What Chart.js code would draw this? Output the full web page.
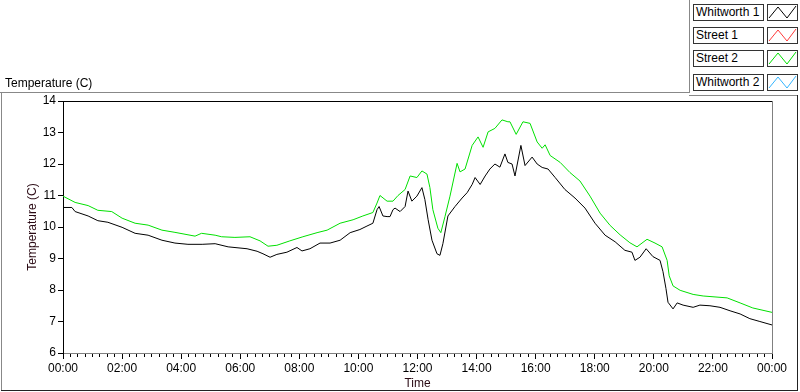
<!DOCTYPE html>
<html><head><meta charset="utf-8">
<script src="https://cdn.jsdelivr.net/npm/chart.js@4.4.1/dist/chart.umd.min.js"></script>
<style>
html,body{margin:0;padding:0;background:#fff;}
#wrap{position:relative;width:800px;height:392px;overflow:hidden;font-family:"Liberation Sans",Arial,sans-serif;font-size:12px;color:#000;}
#c{position:absolute;left:0;top:0;}
.ln{position:absolute;}
.lgt{position:absolute;left:693px;width:71px;height:17px;border:1px solid #333;box-sizing:border-box;line-height:15px;padding-left:2px;background:#fff;white-space:nowrap;}
.lgs{position:absolute;left:767px;width:31px;height:17px;border:1px solid #333;box-sizing:border-box;background:#fff;}
.lgs svg{position:absolute;left:0;top:0;}
#ptitle{position:absolute;left:5px;top:76px;line-height:14px;white-space:nowrap;}
</style></head>
<body>
<div id="wrap">
<canvas id="c" width="800" height="392"></canvas>
<div class="ln" style="left:0;top:92px;width:690px;height:1px;background:#888"></div>
<div class="ln" style="left:689px;top:0;width:1px;height:93px;background:#888"></div>
<div class="ln" style="left:689px;top:95px;width:109px;height:1px;background:#888"></div>
<div class="ln" style="left:1px;top:92px;width:1px;height:299px;background:#888"></div>
<div class="ln" style="left:797px;top:95px;width:1px;height:296px;background:#222"></div>
<div class="ln" style="left:1px;top:390px;width:797px;height:1px;background:#222"></div>
<div id="ptitle">Temperature (C)</div>
<div id="legend"></div>
</div>
<script>
// Whitworth 1 (black)
const w1Time = [0,0.3,0.41,0.85,1.18,1.52,2,2.44,2.88,3.35,3.79,4.23,4.71,5.15,5.59,6.23,6.57,6.77,7.01,7.24,7.58,7.92,8.09,8.36,8.7,9.04,9.38,9.72,10.05,10.29,10.49,10.63,10.7,10.83,10.97,11.07,11.17,11.24,11.41,11.58,11.68,11.81,11.98,12.15,12.25,12.36,12.49,12.66,12.76,12.86,13.03,13.27,13.51,13.68,13.85,13.95,14.12,14.29,14.45,14.62,14.79,14.96,15.06,15.2,15.3,15.5,15.64,15.88,16.05,16.22,16.42,16.66,16.99,17.33,17.67,18.01,18.35,18.69,19.02,19.26,19.36,19.53,19.74,19.97,20.21,20.31,20.41,20.48,20.65,20.79,20.99,21.33,21.56,21.9,22.24,22.58,22.92,23.25,23.59,24];
const w1Temp = [10.62,10.62,10.49,10.35,10.2,10.15,9.99,9.8,9.74,9.58,9.49,9.45,9.45,9.47,9.37,9.31,9.23,9.15,9.04,9.13,9.2,9.35,9.24,9.31,9.49,9.49,9.58,9.82,9.92,10.03,10.12,10.55,10.65,10.35,10.33,10.33,10.55,10.6,10.49,10.65,11.14,10.82,10.98,11.25,10.87,10.23,9.58,9.15,9.1,9.47,10.35,10.65,10.92,11.09,11.35,11.57,11.35,11.62,11.84,12.0,11.9,12.32,12.05,12.0,11.62,12.59,11.95,12.22,12.0,11.89,11.84,11.57,11.19,10.92,10.6,10.12,9.74,9.53,9.26,9.2,8.94,9.04,9.31,9.06,8.94,8.58,8.05,7.61,7.4,7.59,7.52,7.45,7.52,7.5,7.45,7.34,7.24,7.09,7.0,6.89];
// Street 2 (green)
const s2Time = [0,0.41,0.85,1.18,1.65,2,2.44,2.88,3.35,3.79,4.47,4.69,5.15,5.37,5.82,6.33,6.67,6.94,7.24,7.68,8.12,8.6,8.94,9.38,9.82,10.15,10.49,10.63,10.73,10.97,11.17,11.34,11.58,11.75,11.98,12.15,12.32,12.42,12.52,12.69,12.79,12.93,13.1,13.34,13.44,13.61,13.85,14.05,14.22,14.39,14.62,14.86,15.06,15.13,15.34,15.57,15.81,16.05,16.22,16.32,16.49,16.83,17.16,17.5,17.84,18.18,18.52,18.86,19.19,19.43,19.77,20.04,20.28,20.45,20.52,20.65,20.89,21.33,21.67,22.48,22.92,23.35,24];
const s2Temp = [10.98,10.78,10.68,10.53,10.49,10.28,10.12,10.06,9.9,9.83,9.71,9.8,9.74,9.69,9.67,9.69,9.56,9.39,9.42,9.56,9.69,9.82,9.9,10.12,10.23,10.35,10.46,10.76,11.0,10.82,10.82,11.0,11.19,11.62,11.57,11.78,11.68,11.25,10.55,9.96,9.82,10.33,10.98,12.02,11.75,11.84,12.59,12.86,12.53,13.02,13.13,13.4,13.34,13.34,12.94,13.34,13.29,12.7,12.5,12.61,12.27,12.05,11.73,11.46,10.98,10.44,10.05,9.75,9.5,9.37,9.61,9.49,9.37,8.94,8.45,8.13,7.99,7.86,7.81,7.75,7.59,7.43,7.29];
// Street 1 and Whitworth 2 have no visible trace
const s1Time = [], s1Temp = [];
const w2Time = [], w2Temp = [];

const seriesNames = ['Whitworth 1', 'Street 1', 'Street 2', 'Whitworth 2'];
const seriesColors = ['#000000', '#ff3a3a', '#00e000', '#33b5ff'];
const yMin = 6, yMax = 14, yStep = 1;
const xMin = 0, xMax = 24, xMajorStep = 2, xMinorStep = 0.25;
const yTitle = 'Temperature (C)';
const xTitle = 'Time';

function pts(t, v) { return t.map((x, i) => ({x: x, y: v[i]})); }
const seriesData = [pts(w1Time, w1Temp), pts(s1Time, s1Temp), pts(s2Time, s2Temp), pts(w2Time, w2Temp)];

// legend
const lg = document.getElementById('legend');
const tops = [4, 27, 50, 74];
seriesNames.forEach((n, i) => {
  const t = document.createElement('div');
  t.className = 'lgt'; t.style.top = tops[i] + 'px'; t.textContent = n;
  lg.appendChild(t);
  const s = document.createElement('div');
  s.className = 'lgs'; s.style.top = tops[i] + 'px';
  s.innerHTML = '<svg width="29" height="15"><polyline points="1,13 10,2 19,13 28,1" fill="none" stroke="' + seriesColors[i] + '" stroke-width="1"/></svg>';
  lg.appendChild(s);
});

function isMajor(v) { return Math.abs(v / xMajorStep - Math.round(v / xMajorStep)) < 1e-6; }
function fmt(v) { const h = Math.round(v) % 24; return (h < 10 ? '0' : '') + h + ':00'; }
const FONT = {family: '"Liberation Sans", Arial, sans-serif', size: 12};

new Chart(document.getElementById('c'), {
  type: 'line',
  data: {
    datasets: seriesNames.map((n, i) => ({
      label: n, data: seriesData[i], borderColor: seriesColors[i], borderWidth: 1,
      pointRadius: 0, tension: 0, fill: false, xAxisID: 'x', yAxisID: 'y'
    }))
  },
  options: {
    responsive: false, animation: false, devicePixelRatio: 1,
    layout: {padding: {top: 101, right: 28, left: 0, bottom: 0}},
    plugins: {legend: {display: false}, tooltip: {enabled: false}},
    scales: {
      x: {
        type: 'linear', position: 'bottom', min: xMin, max: xMax,
        afterFit: s => { s.height = 39; s.paddingLeft = 0; s.paddingRight = 0; },
        ticks: {stepSize: xMinorStep, autoSkip: false, maxRotation: 0, minRotation: 0, padding: 2,
          color: '#000', font: FONT, callback: v => isMajor(v) ? fmt(v) : ''},
        grid: {drawOnChartArea: false, drawTicks: true, tickLength: 6, tickColor: '#000', tickWidth: 1,
          tickBorderDash: ctx => (ctx.tick && isMajor(ctx.tick.value)) ? [] : [3, 20]},
        border: {display: true, color: '#808080', width: 1},
        title: {display: true, text: xTitle, color: '#2a0a14', font: FONT, padding: {top: 0, bottom: 1}}
      },
      xTop: {
        type: 'linear', position: 'top', min: xMin, max: xMax,
        afterFit: s => { s.height = 0; s.paddingLeft = 0; s.paddingRight = 0; },
        ticks: {display: false}, grid: {drawOnChartArea: false, drawTicks: false},
        border: {display: true, color: '#000', width: 1}
      },
      y: {
        type: 'linear', position: 'left', min: yMin, max: yMax,
        afterFit: s => { s.width = 63; s.paddingTop = 0; s.paddingBottom = 0; },
        ticks: {stepSize: yStep, padding: 2, color: '#000', font: FONT},
        grid: {drawOnChartArea: false, drawTicks: true, tickLength: 5, tickColor: '#000'},
        border: {display: true, color: '#000', width: 1},
        title: {display: true, text: yTitle, color: '#2a0a14', font: FONT, padding: {top: 25, bottom: 0}}
      },
      yRight: {
        type: 'linear', position: 'right', min: yMin, max: yMax,
        afterFit: s => { s.width = 0; s.paddingTop = 0; s.paddingBottom = 0; },
        ticks: {display: false}, grid: {drawOnChartArea: false, drawTicks: false},
        border: {display: true, color: '#808080', width: 1}
      }
    }
  }
});
</script>
</body></html>
